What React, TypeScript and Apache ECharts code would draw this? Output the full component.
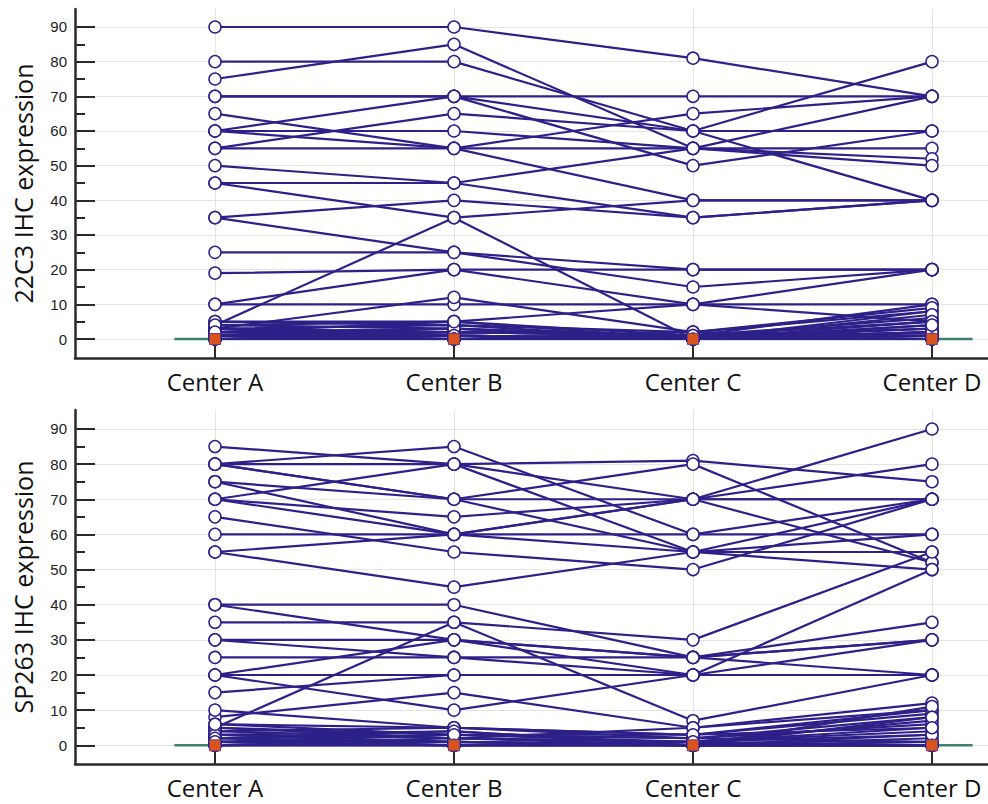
import React, { useEffect, useRef } from 'react';
import * as echarts from 'echarts';

const centers = ['Center A', 'Center B', 'Center C', 'Center D'];
const centerPositions = [0, 1, 2, 3];
const yTicks = [0, 10, 20, 30, 40, 50, 60, 70, 80, 90];
const yMinorTicks = [5, 15, 25, 35, 45, 55, 65, 75, 85];

// 22C3 IHC expression per sample: [Center A, Center B, Center C, Center D]
const ihc22c3: number[][] = [
  [90, 90, 81, 70],
  [75, 85, 55, 70],
  [80, 80, 60, 80],
  [70, 70, 70, 70],
  [60, 70, 60, 60],
  [70, 70, 50, 60],
  [55, 65, 60, 40],
  [60, 60, 55, 55],
  [65, 55, 65, 70],
  [60, 55, 55, 52],
  [55, 55, 40, 40],
  [50, 45, 55, 50],
  [45, 45, 35, 40],
  [45, 35, 0, 2],
  [4, 35, 40, 40],
  [35, 40, 35, 40],
  [35, 25, 20, 20],
  [25, 25, 15, 20],
  [19, 20, 20, 20],
  [10, 20, 10, 20],
  [10, 10, 10, 10],
  [3, 12, 2, 8],
  [5, 5, 10, 5],
  [0, 0, 0, 0],
  [1, 0, 0, 0],
  [0, 1, 0, 1],
  [2, 1, 0, 2],
  [1, 2, 1, 3],
  [3, 2, 1, 5],
  [2, 3, 0, 4],
  [0, 0, 1, 10],
  [1, 1, 0, 8],
  [3, 4, 2, 9],
  [4, 3, 1, 6],
  [2, 5, 0, 7],
  [0, 2, 1, 0],
  [1, 0, 2, 1],
  [5, 4, 0, 2],
  [0, 1, 0, 3],
  [2, 2, 1, 0],
  [1, 3, 0, 5],
  [3, 1, 0, 1],
  [0, 0, 0, 2],
  [4, 5, 1, 0],
  [2, 0, 0, 4],
];

// SP263 IHC expression per sample: [Center A, Center B, Center C, Center D]
const sp263: number[][] = [
  [85, 80, 81, 75],
  [80, 85, 60, 60],
  [80, 80, 70, 90],
  [80, 70, 80, 52],
  [75, 60, 70, 70],
  [70, 80, 55, 55],
  [70, 65, 70, 80],
  [75, 70, 70, 70],
  [70, 60, 55, 70],
  [65, 55, 50, 70],
  [60, 60, 60, 70],
  [55, 60, 70, 52],
  [55, 45, 55, 50],
  [80, 70, 55, 60],
  [40, 40, 25, 35],
  [40, 30, 25, 30],
  [35, 35, 30, 55],
  [5, 35, 7, 20],
  [30, 25, 20, 50],
  [30, 30, 20, 20],
  [25, 25, 25, 20],
  [20, 30, 25, 30],
  [20, 20, 20, 20],
  [20, 10, 20, 30],
  [15, 20, 20, 20],
  [8, 15, 5, 12],
  [10, 5, 3, 10],
  [6, 5, 3, 9],
  [5, 3, 2, 8],
  [4, 2, 1, 5],
  [3, 4, 0, 3],
  [2, 1, 0, 1],
  [1, 0, 0, 0],
  [0, 0, 0, 0],
  [3, 2, 5, 10],
  [2, 3, 1, 7],
  [1, 1, 0, 2],
  [4, 5, 2, 6],
  [0, 1, 0, 0],
  [2, 0, 1, 4],
  [5, 2, 0, 11],
  [1, 3, 2, 1],
  [3, 1, 0, 0],
  [0, 2, 1, 3],
  [2, 4, 0, 8],
  [6, 3, 3, 5],
  [1, 0, 1, 0],
];

const medianValues22c3 = [0, 0, 0, 0];
const medianValuesSp263 = [0, 0, 0, 0];
const medianLineX = [-0.17, 3.17];

const PURPLE = '#2d2189';
const ORANGE = '#d8541c';
const TEAL = '#3e7f73';
const AXIS = '#2a2a2a';
const GRID = '#e4e4e4';

const GRID_LEFT = 75;
const GRID_WIDTH = 997;
const PX_PER_CENTER = 239;
const X_MIN = (GRID_LEFT - 215) / PX_PER_CENTER;
const X_MAX = X_MIN + GRID_WIDTH / PX_PER_CENTER;

export default function App() {
  const ref = useRef<HTMLDivElement>(null);

  useEffect(() => {
    if (!ref.current) return;
    const chart = echarts.init(ref.current, undefined, { renderer: 'svg' });

    const panels = [
      { data: ihc22c3, medians: medianValues22c3, name: '22C3 IHC expression', min: -5.48, max: 95.19 },
      { data: sp263, medians: medianValuesSp263, name: 'SP263 IHC expression', min: -5.32, max: 95.4 },
    ];
    const gridTops = [9, 410];
    const gridHeights = [349, 354];
    const nP = panels.length;

    // xAxis: [main per panel..., helper per panel...]
    const xAxis: any[] = [];
    panels.forEach((_, p) => {
      xAxis.push({
        type: 'value',
        gridIndex: p,
        min: X_MIN,
        max: X_MAX,
        axisLine: {
          show: true,
          onZero: true,
          onZeroAxisIndex: nP + p,
          lineStyle: { color: AXIS, width: 2.5 },
        },
        axisTick: {
          show: true,
          inside: true,
          length: 16,
          customValues: centerPositions,
          lineStyle: { color: AXIS, width: 2 },
        },
        axisLabel: {
          show: true,
          customValues: centerPositions,
          formatter: (v: number) => centers[Math.round(v)] ?? '',
          fontFamily: 'Open Sans',
          fontSize: 24,
          color: '#111',
          margin: 11,
        },
        splitLine: { show: true, lineStyle: { color: GRID, width: 1 } },
      });
    });
    panels.forEach((_, p) => {
      // helper axis whose zero sits on the left edge of the plot
      xAxis.push({
        type: 'value',
        gridIndex: p,
        show: false,
        min: 0,
        max: 1,
        axisLine: { onZero: false },
        splitLine: { show: false },
      });
    });

    // yAxis: [main per panel..., helper per panel..., minor per panel...]
    const yAxis: any[] = [];
    panels.forEach((panel, p) => {
      yAxis.push({
        type: 'value',
        gridIndex: p,
        position: 'left',
        min: panel.min,
        max: panel.max,
        name: panel.name,
        nameLocation: 'middle',
        nameGap: 40,
        nameTextStyle: { fontFamily: 'Open Sans', fontSize: 25, color: '#111' },
        axisLine: {
          show: true,
          onZero: true,
          onZeroAxisIndex: nP + p,
          lineStyle: { color: AXIS, width: 2.5 },
        },
        axisTick: {
          show: true,
          inside: true,
          length: 20,
          customValues: yTicks,
          lineStyle: { color: AXIS, width: 2 },
        },
        axisLabel: {
          show: true,
          customValues: yTicks,
          fontFamily: 'Liberation Sans',
          fontSize: 15,
          color: '#222',
          margin: 8,
        },
        splitLine: { show: true, lineStyle: { color: GRID, width: 1 } },
      });
    });
    panels.forEach((_, p) => {
      // helper axis whose zero sits on the bottom edge of the plot
      yAxis.push({
        type: 'value',
        gridIndex: p,
        show: false,
        min: 0,
        max: 1,
        axisLine: { onZero: false },
        splitLine: { show: false },
      });
    });
    panels.forEach((panel, p) => {
      // minor ticks at the 5s
      yAxis.push({
        type: 'value',
        gridIndex: p,
        position: 'left',
        min: panel.min,
        max: panel.max,
        axisLine: { show: false, onZero: true, onZeroAxisIndex: nP + p },
        axisTick: {
          show: true,
          inside: true,
          length: 10,
          customValues: yMinorTicks,
          lineStyle: { color: AXIS, width: 2 },
        },
        axisLabel: { show: false },
        splitLine: { show: false },
      });
    });

    const series: any[] = [];
    panels.forEach((panel, p) => {
      series.push({
        type: 'line',
        xAxisIndex: p,
        yAxisIndex: p,
        data: medianLineX.map((x) => [x, 0]),
        symbol: 'none',
        silent: true,
        lineStyle: { color: TEAL, width: 2.5 },
        z: 1,
      });
      panel.data.forEach((row) => {
        series.push({
          type: 'line',
          xAxisIndex: p,
          yAxisIndex: p,
          data: row.map((v, i) => [centerPositions[i], v]),
          symbol: 'none',
          showSymbol: false,
          silent: true,
          lineStyle: { color: PURPLE, width: 2.2 },
          z: 2,
        });
      });
      const pts: number[][] = [];
      panel.data.forEach((row) => row.forEach((v, i) => pts.push([centerPositions[i], v])));
      series.push({
        type: 'scatter',
        xAxisIndex: p,
        yAxisIndex: p,
        data: pts,
        symbol: 'circle',
        symbolSize: 12,
        silent: true,
        itemStyle: { color: '#ffffff', borderColor: PURPLE, borderWidth: 1.5, opacity: 1 },
        z: 3,
      });
      series.push({
        type: 'scatter',
        xAxisIndex: p,
        yAxisIndex: p,
        data: panel.medians.map((v, i) => [centerPositions[i], v]),
        symbol: 'rect',
        symbolSize: 11,
        silent: true,
        itemStyle: { color: ORANGE, borderColor: '#7b3a72', borderWidth: 1, opacity: 1 },
        z: 4,
      });
    });

    chart.setOption({
      animation: false,
      backgroundColor: '#ffffff',
      grid: panels.map((_, p) => ({
        left: GRID_LEFT,
        top: gridTops[p],
        width: GRID_WIDTH,
        height: gridHeights[p],
      })),
      xAxis,
      yAxis,
      series,
    });

    return () => chart.dispose();
  }, []);

  return (
    <div style={{ position: 'fixed', left: 0, top: 0, width: 988, height: 804, overflow: 'hidden', background: '#fff' }}>
      <div ref={ref} style={{ width: 1080, height: 804 }} />
    </div>
  );
}
